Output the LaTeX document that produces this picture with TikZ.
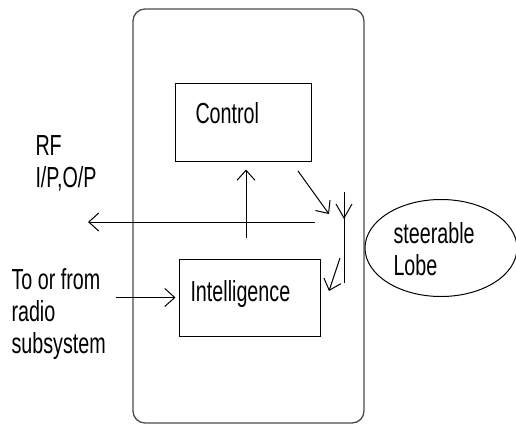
\documentclass[tikz,border=0pt]{standalone}
\usepackage{fontspec}
\setmainfont[FakeStretch=0.68]{Liberation Sans}
\usetikzlibrary{arrows.meta}
\usetikzlibrary{shapes.geometric}

\begin{document}
\begin{tikzpicture}[x=1pt,y=-1pt,line width=1pt,
    every node/.style={font=\fontsize{29}{32}\selectfont},
    lbl/.style={anchor=base west,inner sep=0pt,align=left},
    blk/.style={draw,inner sep=0pt},
    sig/.style={-{Straight Barb[length=10pt,width=18pt]}}]
    \useasboundingbox (0,0) rectangle (516,426);
    \draw[rounded corners=12pt,black!70,line width=1.3pt] (133,9) rectangle (364,423);
    \node[blk,minimum width=136,minimum height=78] (ctrl) at (243,122) {};
    \node[lbl] (ctrltxt) at (195,123) {Control};
    \node[blk,minimum width=141,minimum height=77] (intel) at (249.5,297.5) {};
    \node[lbl] (inteltxt) at (190,301) {Intelligence};
    \node[draw,ellipse,minimum width=152,minimum height=97,inner sep=0pt] (lobe) at (441,248) {};
    \node[lbl] (lobetxt) at (393,275) {steerable\\Lobe};
    \node[lbl] (rftxt) at (35,187) {RF\\I/P,O/P};
    \node[lbl] (radiotxt) at (11,353) {To or from\\radio\\subsystem};
    \coordinate (rfl) at (88,222);
    \coordinate (rfr) at (315,222);
    \coordinate (upfoot) at (246,238);
    \coordinate (feed) at (298,171);
    \coordinate (antin) at (329,214);
    \coordinate (anttop) at (344,192);
    \coordinate (antbot) at (344,283);
    \coordinate (antout) at (340,258);
    \coordinate (intelin) at (329,291);
    \coordinate (radioend) at (116,297.5);
    \draw (anttop) to (antbot);
    \draw (336,204) to (344,218) to (352,204);
    \draw[sig,{Straight Barb[length=10pt,width=18pt]}-] (rfl) to (rfr);
    \draw[sig,shorten >=8pt] (upfoot) to (upfoot |- ctrl.south);
    \draw[sig] (feed) to (antin);
    \draw[sig] (antout) to (intelin);
    \draw[sig,shorten >=3pt] (radioend) to (intel.west);
  \end{tikzpicture}
\end{document}
